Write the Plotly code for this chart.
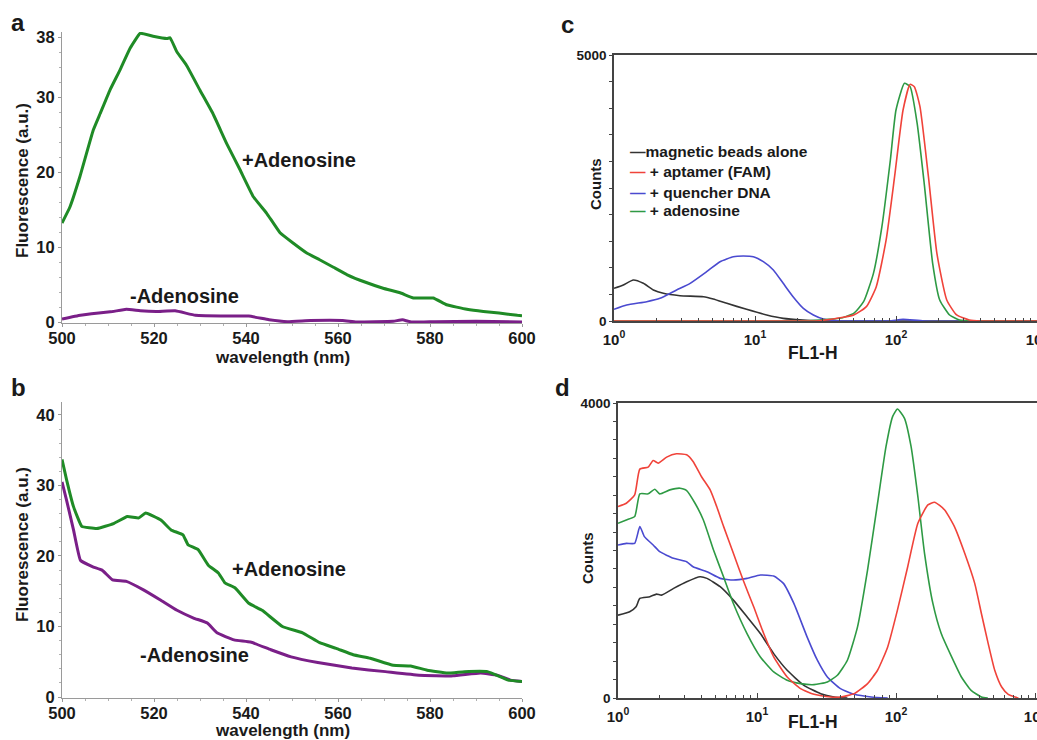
import numpy as np
import plotly.graph_objects as go

W, H = 1037, 740
FONT = "Liberation Sans"

# ---------------- Panel a: aptamer beads + quencher, spectra ----------------
a_plus_nm = [500, 501.7, 503.9, 506.8, 508.3, 510.4, 512.6, 514.8, 517, 519.8, 522.8, 523.5,
             525, 527, 530, 532.8, 535.8, 538.7, 541.6, 544.5, 547.4, 550.3, 553.2, 556,
             559, 562, 566, 569.8, 573.5, 576.4, 580.7, 583.6, 588, 591.6, 595, 599, 600]
a_plus_fl = [13.2, 15.3, 19.4, 25.6, 27.8, 30.9, 33.6, 36.5, 38.5, 38.1, 37.8, 37.9,
             36.0, 34.3, 30.9, 27.8, 23.8, 20.3, 16.7, 14.5, 11.9, 10.5, 9.2, 8.3,
             7.3, 6.3, 5.3, 4.5, 3.9, 3.2, 3.2, 2.3, 1.7, 1.4, 1.2, 0.9, 0.85]
a_minus_nm = [500, 504, 508, 511, 514, 517, 520.5, 524.6, 529, 536, 540.6, 545, 549, 554,
              561, 564, 572, 574, 576, 581, 590, 600]
a_minus_fl = [0.4, 0.9, 1.2, 1.4, 1.7, 1.5, 1.4, 1.5, 0.9, 0.8, 0.8, 0.3, 0.05, 0.2,
              0.2, 0.0, 0.1, 0.3, 0.0, 0.05, 0.1, 0.0]

# ---------------- Panel b: spectra ----------------
b_plus_nm = [500, 501, 502.5, 504.3, 507.6, 511.2, 514.2, 516.7, 518.2, 521.5, 523.7, 526.3,
             527.4, 529.6, 531.8, 534, 535.4, 537.6, 540.6, 543.5, 547.9, 552.3, 556, 559.6,
             563.3, 567, 572, 575.8, 579.4, 583.8, 587.5, 592.5, 597, 600]
b_plus_fl = [33.7, 30.8, 27.0, 24.2, 23.9, 24.6, 25.6, 25.4, 26.1, 25.1, 23.7, 23.0,
             21.6, 20.9, 18.7, 17.6, 16.2, 15.5, 13.3, 12.3, 10.0, 9.1, 7.7, 6.9,
             6.0, 5.5, 4.5, 4.4, 3.8, 3.4, 3.6, 3.6, 2.4, 2.2]
b_minus_nm = [500, 501, 502.5, 504, 506.6, 508.7, 511, 514, 517.7, 521.3, 525, 528.6, 531.6,
              533.7, 537.4, 541, 545.4, 549.8, 555.6, 563, 570.3, 577.6, 585, 591, 594.6,
              597.5, 600]
b_minus_fl = [30.5, 27.9, 23.7, 19.4, 18.5, 18.0, 16.6, 16.4, 15.2, 13.8, 12.3, 11.2, 10.5,
              9.1, 8.1, 7.8, 6.7, 5.7, 4.9, 4.1, 3.6, 3.1, 3.0, 3.4, 3.1, 2.4, 2.2]

# ---------------- Panel c: flow cytometry (x stored as log10 FL1-H) ----------------
c_beads_log = [0, 0.066, 0.137, 0.208, 0.279, 0.35, 0.468, 0.634, 0.704, 0.8, 0.94, 1.083,
               1.2, 1.34, 1.46, 1.6, 3.0]
c_beads_cnt = [614, 677, 771, 708, 583, 520, 476, 457, 414, 332, 219, 113,
               50, 19, 6, 0, 0]
c_quench_log = [0, 0.09, 0.232, 0.326, 0.444, 0.54, 0.657, 0.752, 0.846, 0.917, 0.988, 1.059,
                1.13, 1.2, 1.27, 1.343, 1.414, 1.485, 1.58, 1.7, 1.95, 2.05, 2.2, 3.0]
c_quench_cnt = [219, 300, 363, 426, 583, 708, 927, 1115, 1209, 1222, 1209, 1115,
                959, 708, 457, 238, 113, 38, 6, 0, 0, 31, 0, 0]
c_aden_log = [0, 1.3, 1.46, 1.6, 1.7, 1.77, 1.84, 1.9, 1.96, 2.0, 2.06, 2.1, 2.15, 2.2,
              2.26, 2.31, 2.38, 2.45, 2.55, 3.0]
c_aden_cnt = [0, 0, 19, 50, 144, 363, 896, 1773, 3026, 3966, 4467, 4405, 3715, 2588,
              1084, 395, 113, 19, 0, 0]
c_apt_log = [0, 1.3, 1.46, 1.7, 1.79, 1.86, 1.93, 1.99, 2.05, 2.1, 2.13, 2.17, 2.23, 2.29,
             2.36, 2.43, 2.52, 2.6, 3.0]
c_apt_cnt = [0, 0, 6, 113, 270, 645, 1523, 2713, 3966, 4448, 4405, 4029, 2713, 1272,
             395, 113, 19, 0, 0]

# ---------------- Panel d: flow cytometry ----------------
d_beads_log = [0, 0.084, 0.13, 0.157, 0.229, 0.277, 0.313, 0.4, 0.494, 0.59, 0.64, 0.735,
               0.83, 0.928, 1.024, 1.12, 1.217, 1.337, 1.458, 1.554, 1.65]
d_beads_cnt = [1123, 1169, 1237, 1350, 1373, 1409, 1395, 1486, 1576, 1644, 1622, 1509,
               1327, 1101, 874, 602, 376, 172, 59, 14, 0]
d_quench_log = [0, 0.06, 0.12, 0.157, 0.19, 0.253, 0.3, 0.4, 0.494, 0.54, 0.64, 0.735,
                0.83, 0.928, 1.024, 1.12, 1.19, 1.265, 1.36, 1.434, 1.506, 1.6, 1.7,
                1.82, 1.94]
d_quench_cnt = [2075, 2097, 2097, 2324, 2188, 2075, 1984, 1894, 1848, 1780, 1712, 1622,
                1599, 1622, 1667, 1653, 1554, 1282, 829, 512, 285, 127, 50, 14, 0]
d_aden_log = [0, 0.06, 0.12, 0.157, 0.217, 0.265, 0.3, 0.373, 0.446, 0.494, 0.554, 0.614,
              0.687, 0.759, 0.83, 0.928, 1.024, 1.12, 1.217, 1.313, 1.41, 1.506, 1.578,
              1.65, 1.723, 1.795, 1.867, 1.928, 1.976, 2.01, 2.06, 2.108, 2.157, 2.205,
              2.265, 2.325, 2.4, 2.47, 2.54, 2.614, 2.66]
d_aden_cnt = [2369, 2414, 2460, 2768, 2768, 2831, 2768, 2822, 2845, 2813, 2641, 2414,
              2007, 1644, 1282, 874, 557, 353, 240, 195, 181, 217, 308,
              512, 965, 1735, 2641, 3411, 3819, 3918, 3796, 3411, 2732, 1962,
              1282, 874, 557, 285, 104, 14, 0]
d_apt_log = [0, 0.06, 0.12, 0.157, 0.217, 0.253, 0.289, 0.35, 0.42, 0.494, 0.54, 0.6,
             0.663, 0.71, 0.76, 0.83, 0.9, 0.976, 1.048, 1.12, 1.217, 1.313, 1.41, 1.53,
             1.6, 1.7, 1.795, 1.867, 1.94, 2.01, 2.084, 2.157, 2.229, 2.277, 2.35, 2.42,
             2.494, 2.566, 2.614, 2.663, 2.71, 2.76, 2.807, 2.88]
d_apt_cnt = [2596, 2641, 2754, 3103, 3130, 3221, 3185, 3266, 3311, 3298, 3207, 3003,
             2822, 2596, 2324, 1962, 1599, 1237, 874, 557, 285, 127, 50, 14,
             14, 59, 195, 376, 693, 1191, 1780, 2369, 2618, 2655, 2550, 2324,
             1962, 1554, 1146, 738, 376, 149, 50, 0]

series_names = ["magnetic beads alone", "+ aptamer (FAM)", "+ quencher DNA", "+ adenosine"]
series_colors = ["#333333", "#f0433a", "#4a4ad0", "#2e9a44"]
GREEN_SPEC = "#1f8b26"
PURPLE_SPEC = "#7a1f88"

fig = go.Figure()

def add_line(x, y, color, width, xa, ya, smooth):
    fig.add_trace(go.Scatter(x=x, y=y, mode="lines",
                             line=dict(color=color, width=width, shape="spline",
                                       smoothing=smooth),
                             xaxis=xa, yaxis=ya, showlegend=False, hoverinfo="skip"))

# spectra
add_line(a_minus_nm, a_minus_fl, PURPLE_SPEC, 3, "x", "y", 0.3)
add_line(a_plus_nm, a_plus_fl, GREEN_SPEC, 3, "x", "y", 0.3)
add_line(b_minus_nm, b_minus_fl, PURPLE_SPEC, 3, "x2", "y2", 0.3)
add_line(b_plus_nm, b_plus_fl, GREEN_SPEC, 3, "x2", "y2", 0.3)

# histograms (beads, quencher, adenosine, aptamer drawing order)
c_sets = [(c_beads_log, c_beads_cnt, 0), (c_quench_log, c_quench_cnt, 2),
          (c_aden_log, c_aden_cnt, 3), (c_apt_log, c_apt_cnt, 1)]
for lx, cnt, k in c_sets:
    add_line(10 ** np.array(lx), cnt, series_colors[k], 1.6, "x3", "y3", 0.5)
d_sets = [(d_beads_log, d_beads_cnt, 0), (d_quench_log, d_quench_cnt, 2),
          (d_aden_log, d_aden_cnt, 3), (d_apt_log, d_apt_cnt, 1)]
for lx, cnt, k in d_sets:
    add_line(10 ** np.array(lx), cnt, series_colors[k], 1.6, "x4", "y4", 0.5)

def px(v):
    return v / W

def py(v):
    return 1 - v / H

tick_font = dict(family=FONT, size=16.5, color="#1a1a1a", weight="bold")
spec_x = dict(range=[500, 600], tickvals=[500, 520, 540, 560, 580, 600], showline=True,
              linecolor="#9a9a9a", linewidth=1.2, ticks="outside", ticklen=3,
              tickcolor="#9a9a9a", tickfont=tick_font, showgrid=False, zeroline=False,
              ticklabelstandoff=-3, automargin=False, ticklabeloverflow="allow",
              minor=dict(ticks="outside", ticklen=2, dtick=5, tickcolor="#b0b0b0"))
spec_y = dict(showline=True, linecolor="#9a9a9a", linewidth=1.2, ticks="outside", ticklen=3,
              tickcolor="#9a9a9a", tickfont=tick_font, showgrid=False, zeroline=False,
              automargin=False,
              minor=dict(ticks="outside", ticklen=2, dtick=2, tickcolor="#b0b0b0"))

log_font = dict(family=FONT, size=15, color="#1a1a1a", weight="bold")
flow_x = dict(type="log", tickvals=[1, 10, 100, 1000],
              ticktext=["10<sup>0</sup>", "10<sup>1</sup>", "10<sup>2</sup>", "10<sup>3</sup>"],
              showline=True, linecolor="#444444", linewidth=1.5, mirror=True,
              ticks="inside", ticklen=5, tickcolor="#444444", tickfont=log_font,
              showgrid=False, zeroline=False, ticklabelstandoff=4, automargin=False,
              ticklabeloverflow="allow",
              minor=dict(ticks="inside", ticklen=3, dtick="D1", tickcolor="#444444",
                         showgrid=False))
flow_y = dict(showline=True, linecolor="#444444", linewidth=1.5, ticks="outside", ticklen=3,
              tickcolor="#444444", showgrid=False, zeroline=False, automargin=False,
              tickfont=dict(family=FONT, size=13.5, color="#1a1a1a", weight="bold"))

fig.update_layout(
    width=W, height=H, margin=dict(l=0, r=0, t=0, b=0, autoexpand=False),
    paper_bgcolor="white", plot_bgcolor="white", showlegend=False,
    xaxis=dict(spec_x, domain=[px(62), px(522)], anchor="y"),
    yaxis=dict(spec_y, domain=[py(323), py(32)], range=[-0.13, 38.67],
               tickvals=[0, 10, 20, 30, 38], anchor="x"),
    xaxis2=dict(spec_x, domain=[px(62), px(522)], anchor="y2"),
    yaxis2=dict(spec_y, domain=[py(698), py(402)], range=[-0.14, 41.84],
                tickvals=[0, 10, 20, 30, 40], anchor="x2"),
    xaxis3=dict(flow_x, domain=[px(614), 1.0], range=[0, 3], anchor="y3"),
    yaxis3=dict(flow_y, domain=[py(321), py(55)], range=[0, 5000], tickvals=[0, 5000],
                minor=dict(ticks="outside", ticklen=3, dtick=500, tickcolor="#444444"),
                anchor="x3"),
    xaxis4=dict(flow_x, domain=[px(618), 1.0], range=[0, 3.014], anchor="y4"),
    yaxis4=dict(flow_y, domain=[py(698), py(403)], range=[0, 4000], tickvals=[0, 4000],
                minor=dict(ticks="outside", ticklen=3, dtick=250, tickcolor="#444444"),
                anchor="x4"),
)

def note(text, x, y, size, xref="paper", yref="paper", angle=0, xanchor="center",
         color="#1a1a1a"):
    fig.add_annotation(text=text, x=x, y=y, xref=xref, yref=yref, showarrow=False,
                       textangle=angle, xanchor=xanchor, yanchor="middle",
                       font=dict(family=FONT, size=size, color=color, weight="bold"))

# panel letters
note("a", px(18), py(22), 24)
note("b", px(18), py(387), 24)
note("c", px(567), py(25), 24)
note("d", px(562), py(387), 24)

# axis titles
note("Fluorescence (a.u.)", px(22), py(181), 17, angle=-90)
note("wavelength (nm)", px(282), py(357), 17)
note("Fluorescence (a.u.)", px(22), py(545), 17, angle=-90)
note("wavelength (nm)", px(282), py(730), 17)
note("Counts", px(595), py(184), 15, angle=-90)
note("FL1-H", px(813), py(353), 17.5)
note("Counts", px(587), py(558), 15, angle=-90)
note("FL1-H", px(813), py(722), 17.5)

# curve labels
note("+Adenosine", 538.7, 21.6, 20, xref="x", yref="y", xanchor="left")
note("-Adenosine", 514.3, 3.5, 20, xref="x", yref="y", xanchor="left")
note("+Adenosine", 536.5, 18.2, 20, xref="x2", yref="y2", xanchor="left")
note("-Adenosine", 516.5, 6.0, 20, xref="x2", yref="y2", xanchor="left")

# key for panel c
key_rows = [151.5, 171.5, 192, 210.5]
for name, color, row in zip(series_names, series_colors, key_rows):
    gap = " " if name.startswith("+") else ""
    txt = f'<span style="color:{color}">\u2014</span>{gap}{name}'
    note(txt, px(628), py(row), 15.5, xanchor="left")

fig.write_html("out.html")
